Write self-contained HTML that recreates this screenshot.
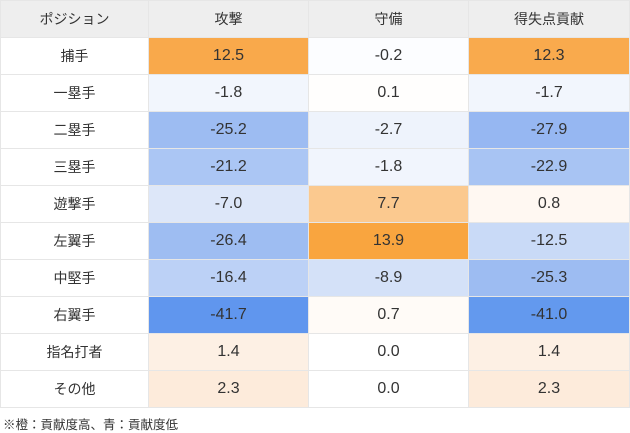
<!DOCTYPE html><html><head><meta charset="utf-8"><style>
body{margin:0;background:#fff;width:630px;height:433px;overflow:hidden;font-family:"Liberation Sans","Noto Sans CJK JP",sans-serif;}
table{position:absolute;left:0;top:0;border-collapse:collapse;width:629px;table-layout:fixed;}
td,th{border:1.5px solid #e6e6e6;text-align:center;padding:0;height:35.5px;font-size:16px;color:#333;box-sizing:border-box;}
tr{height:37px;}
th{background:#eeeeee;font-weight:normal;font-size:14px;}
td.n{font-size:14px;}
.f{position:absolute;left:3px;top:414px;font-size:12.5px;color:#333;}
</style></head><body>
<table>
<colgroup><col style="width:148px"><col style="width:160px"><col style="width:160px"><col style="width:161px"></colgroup>
<tr><th>ポジション</th><th>攻撃</th><th>守備</th><th>得失点貢献</th></tr>
<tr><td class="n">捕手</td><td style="background:#f9a94b">12.5</td><td style="background:#fcfdff">-0.2</td><td style="background:#f9aa4d">12.3</td></tr>
<tr><td class="n">一塁手</td><td style="background:#f2f6fd">-1.8</td><td style="background:#fffefd">0.1</td><td style="background:#f2f6fd">-1.7</td></tr>
<tr><td class="n">二塁手</td><td style="background:#9dbcf2">-25.2</td><td style="background:#eef3fc">-2.7</td><td style="background:#96b7f2">-27.9</td></tr>
<tr><td class="n">三塁手</td><td style="background:#abc6f4">-21.2</td><td style="background:#f1f5fd">-1.8</td><td style="background:#a8c4f3">-22.9</td></tr>
<tr><td class="n">遊撃手</td><td style="background:#dde7f9">-7.0</td><td style="background:#fbc98f">7.7</td><td style="background:#fff8f2">0.8</td></tr>
<tr><td class="n">左翼手</td><td style="background:#9ebdf2">-26.4</td><td style="background:#f9a53f">13.9</td><td style="background:#c9daf7">-12.5</td></tr>
<tr><td class="n">中堅手</td><td style="background:#bcd1f6">-16.4</td><td style="background:#d4e1f8">-8.9</td><td style="background:#9dbcf2">-25.3</td></tr>
<tr><td class="n">右翼手</td><td style="background:#6096ee">-41.7</td><td style="background:#fffbf7">0.7</td><td style="background:#6399ee">-41.0</td></tr>
<tr><td class="n">指名打者</td><td style="background:#fdf0e4">1.4</td><td style="background:#fff">0.0</td><td style="background:#fdf0e4">1.4</td></tr>
<tr><td class="n">その他</td><td style="background:#fdebdb">2.3</td><td style="background:#fff">0.0</td><td style="background:#fdebdb">2.3</td></tr>
</table>
<div class="f">※橙：貢献度高、青：貢献度低</div>
</body></html>
